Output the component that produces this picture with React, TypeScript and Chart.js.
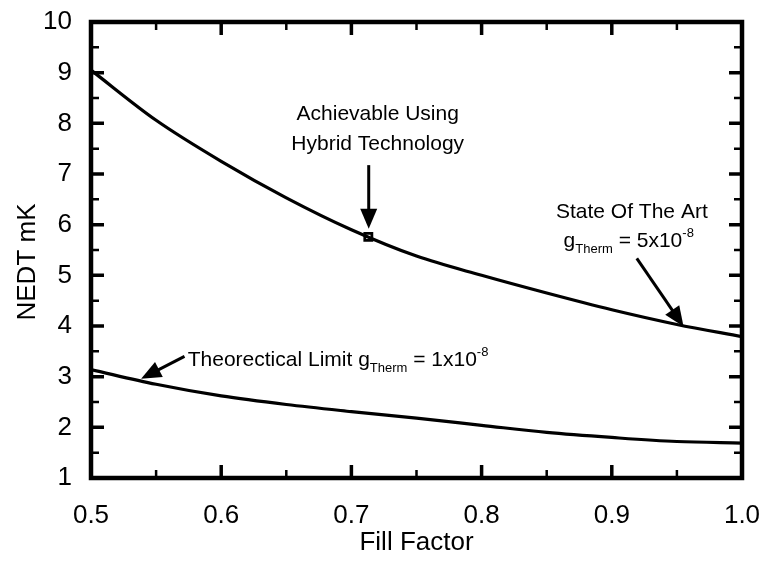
import React, { useEffect, useRef } from "react";
import { Chart, registerables } from "chart.js";

Chart.register(...registerables);

// ---- data ----
const fillFactor = [0.5, 0.55, 0.6, 0.65, 0.7, 0.75, 0.8, 0.85, 0.9, 0.95, 1.0];
const stateOfTheArt = [9.05, 8.06, 7.25, 6.53, 5.9, 5.38, 5.0, 4.65, 4.32, 4.03, 3.79];
const theoreticalLimit = [3.14, 2.85, 2.62, 2.45, 2.31, 2.18, 2.04, 1.9, 1.8, 1.72, 1.69];
const hybridX = [0.713];
const hybridY = [5.76];
const xTickLabels = ["0.5", "0.6", "0.7", "0.8", "0.9", "1.0"];
const yTickLabels = ["1", "2", "3", "4", "5", "6", "7", "8", "9", "10"];
const xMinorTicks = [0.55, 0.65, 0.75, 0.85, 0.95];
const yMinorTicks = [1.5, 2.5, 3.5, 4.5, 5.5, 6.5, 7.5, 8.5, 9.5];

const FONT = '"Liberation Sans", Arial, Helvetica, sans-serif';

type Run = { text: string; size: number; dy: number };

function drawRuns(ctx: CanvasRenderingContext2D, x: number, y: number, runs: Run[], align: "left" | "center") {
  ctx.save();
  ctx.textBaseline = "alphabetic";
  ctx.textAlign = "left";
  let total = 0;
  const widths = runs.map((r) => {
    ctx.font = `${r.size}px ${FONT}`;
    const w = ctx.measureText(r.text).width;
    total += w;
    return w;
  });
  let cx = align === "center" ? x - total / 2 : x;
  runs.forEach((r, i) => {
    ctx.font = `${r.size}px ${FONT}`;
    ctx.fillText(r.text, cx, y + r.dy);
    cx += widths[i];
  });
  ctx.restore();
}

function drawArrow(ctx: CanvasRenderingContext2D, x1: number, y1: number, x2: number, y2: number) {
  const ang = Math.atan2(y2 - y1, x2 - x1);
  const headLen = 20;
  const headHalf = 8.5;
  ctx.save();
  ctx.strokeStyle = "#000";
  ctx.fillStyle = "#000";
  ctx.lineWidth = 3;
  ctx.beginPath();
  ctx.moveTo(x1, y1);
  ctx.lineTo(x2 - Math.cos(ang) * headLen * 0.8, y2 - Math.sin(ang) * headLen * 0.8);
  ctx.stroke();
  ctx.beginPath();
  ctx.moveTo(x2, y2);
  ctx.lineTo(
    x2 - Math.cos(ang) * headLen + Math.cos(ang + Math.PI / 2) * headHalf,
    y2 - Math.sin(ang) * headLen + Math.sin(ang + Math.PI / 2) * headHalf
  );
  ctx.lineTo(
    x2 - Math.cos(ang) * headLen - Math.cos(ang + Math.PI / 2) * headHalf,
    y2 - Math.sin(ang) * headLen - Math.sin(ang + Math.PI / 2) * headHalf
  );
  ctx.closePath();
  ctx.fill();
  ctx.restore();
}

const overlayPlugin = {
  id: "overlay",
  afterDatasetsDraw(chart: any) {
    const ctx: CanvasRenderingContext2D = chart.ctx;
    const { left, right, top, bottom } = chart.chartArea;
    const xs = chart.scales.x;
    const ys = chart.scales.y;
    const px = (v: number) => xs.getPixelForValue(v);
    const py = (v: number) => ys.getPixelForValue(v);

    ctx.save();
    ctx.strokeStyle = "#000";
    ctx.lineCap = "butt";

    // ticks (inward, on all four sides)
    const majorLen = 13;
    const minorLen = 8;
    const drawXTick = (v: number, len: number, w: number) => {
      const x = px(v);
      ctx.lineWidth = w;
      ctx.beginPath();
      ctx.moveTo(x, bottom);
      ctx.lineTo(x, bottom - len);
      ctx.moveTo(x, top);
      ctx.lineTo(x, top + len);
      ctx.stroke();
    };
    const drawYTick = (v: number, len: number, w: number) => {
      const y = py(v);
      ctx.lineWidth = w;
      ctx.beginPath();
      ctx.moveTo(left, y);
      ctx.lineTo(left + len, y);
      ctx.moveTo(right, y);
      ctx.lineTo(right - len, y);
      ctx.stroke();
    };
    xTickLabels.forEach((t) => drawXTick(parseFloat(t), majorLen, 3.5));
    xMinorTicks.forEach((v) => drawXTick(v, minorLen, 2.5));
    yTickLabels.forEach((t) => drawYTick(parseFloat(t), majorLen, 3.5));
    yMinorTicks.forEach((v) => drawYTick(v, minorLen, 2.5));

    // frame
    ctx.lineWidth = 4.5;
    ctx.lineJoin = "miter";
    ctx.strokeRect(left, top, right - left, bottom - top);
    ctx.restore();

    // axis titles
    ctx.save();
    ctx.fillStyle = "#000";
    ctx.font = `26px ${FONT}`;
    ctx.textAlign = "center";
    ctx.textBaseline = "alphabetic";
    ctx.fillText("Fill Factor", (left + right) / 2, 550);
    ctx.translate(35, 262);
    ctx.rotate(-Math.PI / 2);
    ctx.fillText("NEDT mK", 0, 0);
    ctx.restore();

    // annotations
    ctx.save();
    ctx.fillStyle = "#000";
    drawRuns(ctx, px(0.7202), py(8.2) + 7, [{ text: "Achievable Using", size: 21, dy: 0 }], "center");
    drawRuns(ctx, px(0.7202), py(7.61) + 7, [{ text: "Hybrid Technology", size: 21, dy: 0 }], "center");
    drawArrow(ctx, px(0.7133), py(7.175), px(0.7133), py(5.92));

    drawRuns(ctx, px(0.9154), py(6.29) + 8, [{ text: "State Of The Art", size: 21, dy: 0 }], "center");
    drawRuns(
      ctx,
      px(0.913),
      py(5.7) + 7,
      [
        { text: "g", size: 21, dy: 0 },
        { text: "Therm", size: 13, dy: 6 },
        { text: " = 5x10", size: 21, dy: 0 },
        { text: "-8", size: 13, dy: -10 },
      ],
      "center"
    );
    drawArrow(ctx, px(0.9192), py(5.336), px(0.9551), py(3.99));

    drawRuns(
      ctx,
      px(0.5743),
      py(3.37) + 8,
      [
        { text: "Theorectical Limit g", size: 21, dy: 0 },
        { text: "Therm", size: 13, dy: 6 },
        { text: " = 1x10", size: 21, dy: 0 },
        { text: "-8", size: 13, dy: -10 },
      ],
      "left"
    );
    drawArrow(ctx, px(0.5718), py(3.4), px(0.5385), py(2.96));
    ctx.restore();
  },
};

export default function App() {
  const canvasRef = useRef<HTMLCanvasElement | null>(null);

  useEffect(() => {
    document.body.style.margin = "0";
    const canvas = canvasRef.current;
    if (!canvas) return;
    const chart = new Chart(canvas, {
      type: "line",
      data: {
        datasets: [
          {
            label: "State Of The Art",
            data: fillFactor.map((x, i) => ({ x, y: stateOfTheArt[i] })),
            borderColor: "#000",
            borderWidth: 3.2,
            pointRadius: 0,
            fill: false,
            cubicInterpolationMode: "monotone",
          },
          {
            label: "Theoretical Limit",
            data: fillFactor.map((x, i) => ({ x, y: theoreticalLimit[i] })),
            borderColor: "#000",
            borderWidth: 3.2,
            pointRadius: 0,
            fill: false,
            cubicInterpolationMode: "monotone",
          },
          {
            label: "Hybrid",
            data: hybridX.map((x, i) => ({ x, y: hybridY[i] })),
            showLine: false,
            pointStyle: "rect",
            pointRadius: 5,
            pointBorderWidth: 2.8,
            pointBorderColor: "#000",
            pointBackgroundColor: "#fff",
          },
        ],
      },
      options: {
        animation: false,
        responsive: true,
        maintainAspectRatio: false,
        layout: { padding: { top: 22, right: 19, left: 0, bottom: 0 } },
        plugins: {
          legend: { display: false },
          tooltip: { enabled: false },
          title: { display: false },
        },
        scales: {
          x: {
            type: "linear",
            min: 0.5,
            max: 1.0,
            grid: { display: false },
            border: { display: false },
            ticks: {
              stepSize: 0.1,
              autoSkip: false,
              maxRotation: 0,
              padding: 14,
              color: "#000",
              font: { family: FONT, size: 26 },
              callback: (_v: any, i: number) => xTickLabels[i],
            },
            afterFit: (s: any) => {
              s.height = 88;
              s.paddingLeft = 0;
              s.paddingRight = 0;
            },
          },
          y: {
            type: "linear",
            min: 1,
            max: 10,
            grid: { display: false },
            border: { display: false },
            ticks: {
              stepSize: 1,
              autoSkip: false,
              padding: 11,
              color: "#000",
              font: { family: FONT, size: 26 },
              callback: (_v: any, i: number) => yTickLabels[i],
            },
            afterFit: (s: any) => {
              s.width = 91;
              s.paddingTop = 0;
              s.paddingBottom = 0;
            },
          },
        },
      },
      plugins: [overlayPlugin],
    } as any);
    return () => chart.destroy();
  }, []);

  return (
    <div style={{ width: 761, height: 566, position: "relative", background: "#fff" }}>
      <canvas ref={canvasRef} />
    </div>
  );
}
